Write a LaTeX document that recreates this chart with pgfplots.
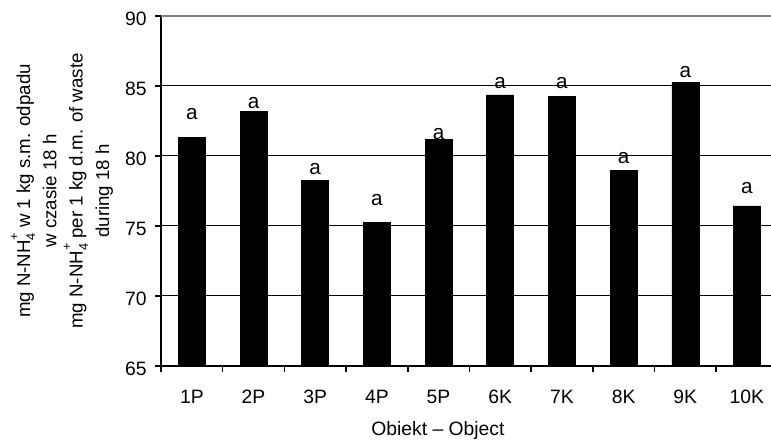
\documentclass[border=0pt]{standalone}
\usepackage{fontspec}
\setmainfont{Liberation Sans}
\usepackage{pgfplots}
\pgfplotsset{compat=1.18}
\newcommand{\nh}{N-NH\rlap{\raisebox{0.62em}{\fontsize{9.5}{9.5}\selectfont +}}\raisebox{-0.28em}{\fontsize{9.5}{9.5}\selectfont 4}}
\begin{document}
\begin{tikzpicture}
\begin{axis}[
  at={(0,0)}, anchor=south west, scale only axis,
  width=457.5pt, height=262.5pt,
  xmin=-0.5, xmax=9.39, ymin=65, ymax=90,
  axis x line*=bottom, axis y line*=left,
  axis line style={line width=1.5pt, black},
  /pgf/number format/assume math mode=true,
  tick label style={font=\fontsize{14.5}{16}\selectfont},
  ytick={65,70,75,80,85}, extra y ticks={90},
  ymajorgrids, grid style={black, line width=0.75pt},
  extra y tick style={grid style={gray, line width=2pt}},
  tick align=outside,
  major tick length=4.5pt, minor tick length=4.5pt,
  tick style={black, line width=1.2pt},
  xtick={0,...,9},
  xticklabels={1P,2P,3P,4P,5P,6K,7K,8K,9K,10K},
  major x tick style={draw=none},
  minor xtick={-0.5,0.5,...,8.5},
  xticklabel style={anchor=base, inner sep=0pt, yshift=-24pt},
  yticklabel style={anchor=east, inner sep=0pt, xshift=-6pt, yshift=-2pt},
  xlabel={Obiekt -- Object},
  xlabel style={font=\fontsize{14.5}{16}\selectfont, at={(axis description cs:0.454,0)}, anchor=base, yshift=-52.5pt},
  ylabel={mg \nh\ w 1 kg s.m. odpadu\\w czasie 18 h\\mg \nh\ per 1 kg d.m. of waste\\during 18 h},
  ylabel style={align=center, font=\fontsize{14}{19.75}\selectfont, at={(axis description cs:-0.1623,0.5)}, anchor=center},
]
\addplot[ybar, bar width=20.25pt, fill=black, draw=black]
  coordinates {(0,81.34)(1,83.2)(2,78.24)(3,75.24)(4,81.21)(5,84.36)(6,84.24)(7,78.95)(8,85.24)(9,76.43)};
\addplot[draw=none, mark=none, nodes near coords={\fontsize{15.5}{17}\selectfont a}, nodes near coords align={center},
  every node near coord/.append style={inner sep=0pt, anchor=center}]
  coordinates {(0,83.0)(1,83.76)(2,79.1)(3,76.86)(4,81.57)(5,85.19)(6,85.19)(7,79.88)(8,86.02)(9,77.69)};
\end{axis}
\pgfresetboundingbox
\useasboundingbox (-120.75pt,-56.25pt) rectangle (457.5pt,274.5pt);
\end{tikzpicture}
\end{document}
